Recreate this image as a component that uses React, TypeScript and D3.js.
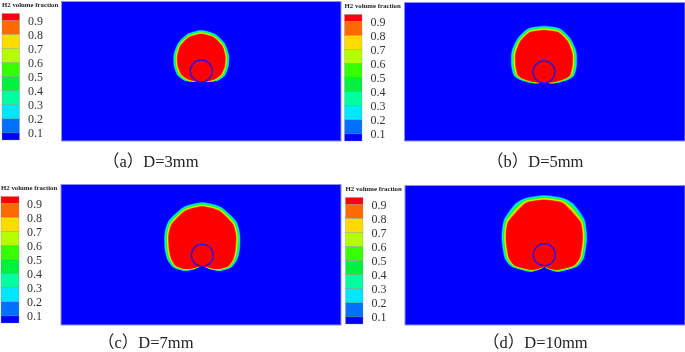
import React from "react";
import * as d3 from "d3";

const width = 685;
const height = 352;

// legend, top swatch first
const legendColors = [
  "#ff0000", "#ff6a00", "#ffdc00", "#b4ff00", "#35ff00",
  "#00f040", "#00ffa0", "#00e6ff", "#0070ff", "#0000ff",
];
const legendTicks = [0.9, 0.8, 0.7, 0.6, 0.5, 0.4, 0.3, 0.2, 0.1];
const legendTitle = "H2 volume fraction";

const captions = ["（a）D=3mm", "（b）D=5mm", "（c）D=7mm", "（d）D=10mm"];

// plume edge: half profile, top (0 deg) round to the bottom (180 deg)
const anglesA = [0, 20, 40, 60, 80, 100, 120, 140, 160, 180];
const redEdgeA = [37, 35.8, 32.5, 27.7, 23.5, 20, 16, 12.8, 11.5, 11];
const bandA = [4, 4, 4, 4.5, 4.5, 4.5, 3.5, 1.5, 0.3, 0];

const anglesB = [0, 20, 38, 58, 80, 97, 109, 133, 150, 165, 180];
const redEdgeB = [41.7, 42, 38.5, 33.5, 28.5, 26, 21.5, 14.5, 12, 11, 11];
const bandB = [4.5, 4.5, 4.5, 5, 5, 4.5, 3.5, 2, 1.2, 0, 0];

const anglesC = [0, 21, 44, 60, 80, 97, 113, 131, 148, 165, 180];
const redEdgeC = [48.7, 47.5, 43.5, 38.8, 33.5, 31, 28, 21, 15, 11.5, 10.5];
const bandC = [4.5, 4.5, 5, 5, 5, 4.5, 3.5, 3, 2, 0.7, 0];

const anglesD = [0, 18, 30, 48, 60, 72, 95, 111, 141, 171, 180];
const redEdgeD = [54.7, 55, 51.5, 48.5, 44, 40, 35.5, 31, 19.6, 13, 10.7];
const bandD = [5, 5, 7.5, 5.5, 5, 5, 4.5, 3.5, 2.5, 0.7, 0];

const profiles = [
  { angles: anglesA, edge: redEdgeA, band: bandA },
  { angles: anglesB, edge: redEdgeB, band: bandB },
  { angles: anglesC, edge: redEdgeC, band: bandC },
  { angles: anglesD, edge: redEdgeD, band: bandD },
];

// panel layout
const panels = [
  { x0: 61.5, x1: 341, y0: 1.5, y1: 141, lx: 2, lw: 17.5, ly: 13.5, cx: 201.3, cy: 71, capX: 103, capY: 167 },
  { x0: 404.5, x1: 685, y0: 2.5, y1: 141, lx: 344.5, lw: 17.5, ly: 14.5, cx: 544, cy: 72, capX: 487, capY: 167 },
  { x0: 61, x1: 341, y0: 184.5, y1: 325, lx: 1, lw: 18, ly: 196.5, cx: 202.3, cy: 255.3, capX: 98, capY: 348 },
  { x0: 405, x1: 685, y0: 185.5, y1: 325, lx: 345.5, lw: 17.5, ly: 197.5, cx: 544.3, cy: 254.7, capX: 483, capY: 348 },
];

const legendHeight = 126.5;
const holeRadius = 11;
const cjk = "'Noto Sans CJK SC', serif";
const latin = "'Liberation Serif', serif";

const rScale = d3.scaleLinear().domain([0, 70]).range([0, 70]);

const radial = d3
  .lineRadial<[number, number]>()
  .angle((d) => (d[0] * Math.PI) / 180)
  .radius((d) => rScale(d[1]))
  .curve(d3.curveCardinalClosed.tension(0.35));

// closed outline of one contour, t = 0 is the red edge, t = 1 the outermost one
const contourPath = (p: (typeof profiles)[number], t: number) => {
  const right = p.angles.map((a, i) => [a, p.edge[i] + p.band[i] * t] as [number, number]);
  const left = right
    .slice(1, -1)
    .reverse()
    .map((d) => [360 - d[0], d[1]] as [number, number]);
  return radial([...right, ...left]) as string;
};

const Panel = ({ index }: { index: number }) => {
  const p = panels[index];
  const profile = profiles[index];

  const legendY = d3
    .scaleLinear()
    .domain([0.05, 0.95])
    .range([p.ly + legendHeight, p.ly]);

  // outermost colour first, red goes last
  const levels = legendColors.slice(1, 9).reverse();
  const label = captions[index].split("）");

  return (
    <g>
      <text x={p.lx} y={p.ly - 6.5} fontFamily={latin} fontWeight="bold" fontSize={6.8} fill="#222">
        {legendTitle}
      </text>
      {legendColors.map((c, i) => {
        const top = i === 0 ? 0.95 : 0.9 - (i - 1) * 0.1;
        const bottom = i === 9 ? 0.05 : 0.9 - i * 0.1;
        return (
          <rect
            key={c}
            x={p.lx}
            y={legendY(top)}
            width={p.lw}
            height={legendY(bottom) - legendY(top)}
            fill={c}
            stroke="#8a8a8a"
            strokeWidth={0.3}
          />
        );
      })}
      {legendTicks.map((t) => (
        <text
          key={t}
          x={p.lx + 26}
          y={legendY(t) + 4.5}
          fontFamily={latin}
          fontSize={12}
          fill="#333"
        >
          {t.toFixed(1)}
        </text>
      ))}

      <rect
        x={p.x0}
        y={p.y0}
        width={p.x1 - p.x0}
        height={p.y1 - p.y0}
        fill="#0000ff"
        stroke="#8c8cf5"
        strokeWidth={1}
      />
      <g transform={`translate(${p.cx},${p.cy})`}>
        <g filter="url(#plume)">
          {levels.map((c, i) => (
            <path key={c} d={contourPath(profile, 1 - i / levels.length)} fill={c} />
          ))}
          <path d={contourPath(profile, 0)} fill={legendColors[0]} />
        </g>
        <circle r={rScale(holeRadius)} fill={legendColors[0]} stroke="#2a10e0" strokeWidth={1.3} />
      </g>

      <text x={p.capX} y={p.capY} fontFamily={latin} fontSize={16.5} fill="#222">
        <tspan fontFamily={cjk}>（</tspan>
        {label[0].slice(1)}
        <tspan fontFamily={cjk}>）</tspan>
        {label[1]}
      </text>
    </g>
  );
};

export default function App() {
  return (
    <svg
      width={width}
      height={height}
      style={{ position: "fixed", left: 0, top: 0, display: "block", background: "#fff" }}
    >
      <defs>
        <filter id="soft" x="-2%" y="-2%" width="104%" height="104%">
          <feGaussianBlur stdDeviation={0.55} />
        </filter>
        <filter id="plume" x="-10%" y="-10%" width="120%" height="120%">
          <feGaussianBlur stdDeviation={0.6} />
        </filter>
      </defs>
      <g filter="url(#soft)">
        {panels.map((_, i) => (
          <Panel key={i} index={i} />
        ))}
      </g>
    </svg>
  );
}
